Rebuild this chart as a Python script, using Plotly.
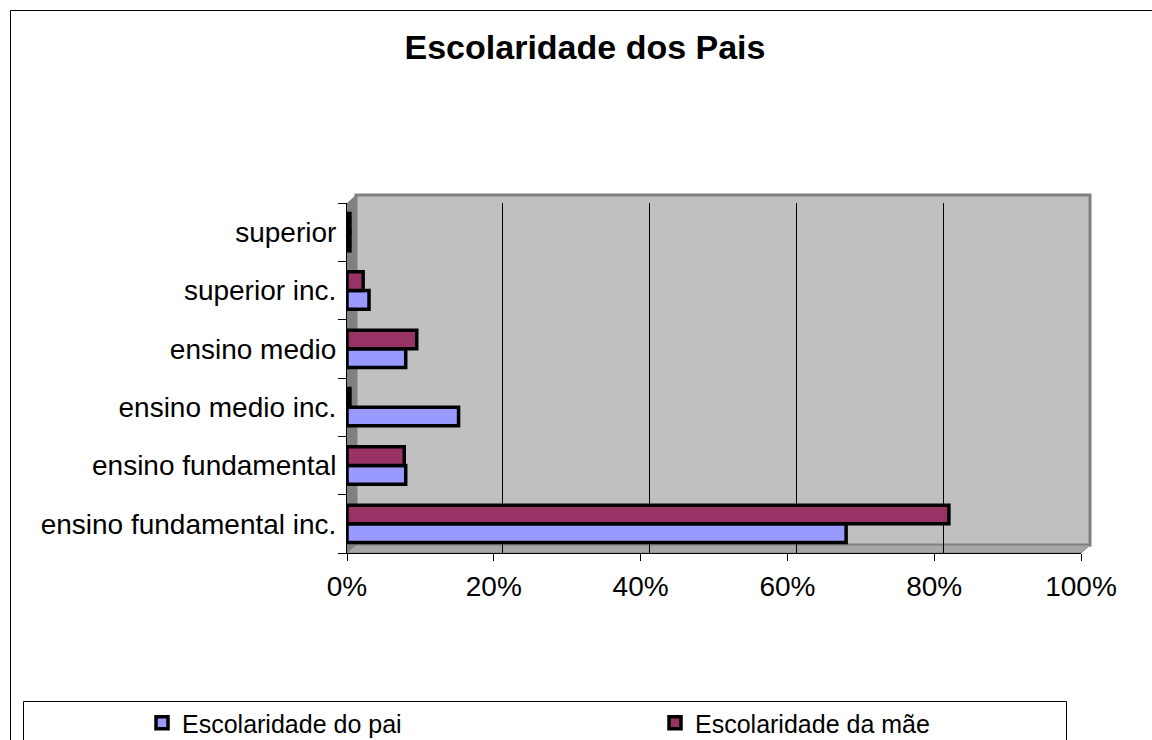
import plotly.graph_objects as go

categories = ["ensino fundamental inc.", "ensino fundamental", "ensino medio inc.",
              "ensino medio", "superior inc.", "superior"]
pai = [0.68, 0.08, 0.152, 0.08, 0.03, 0.004]
mae = [0.82, 0.078, 0.004, 0.095, 0.022, 0.004]
tick_vals = [0, 0.2, 0.4, 0.6, 0.8, 1.0]
tick_text = ["0%", "20%", "40%", "60%", "80%", "100%"]

W, H = 1152, 740
L, R, T, B = 347, 1081, 203, 553
pw, ph = R - L, B - T
DX, DY = 9, 8  # 3D depth offset of the back wall

def px(x):
    return (x - L) / pw

def py(y):
    return (B - y) / ph

font = "Arial, Liberation Sans, sans-serif"

fig = go.Figure()
fig.add_trace(go.Bar(y=categories, x=pai, orientation="h", name="Escolaridade do pai",
                     legend="legend",
                     marker=dict(color="#9999FF", line=dict(color="black", width=3.5))))
fig.add_trace(go.Bar(y=categories, x=mae, orientation="h", name="Escolaridade da mãe",
                     legend="legend2",
                     marker=dict(color="#993366", line=dict(color="black", width=3.5))))
# helper trace so the back-wall grid axis exists
fig.add_trace(go.Scatter(x=[None], y=[None], xaxis="x2", showlegend=False, hoverinfo="skip"))

def poly(pts):
    d = "M " + " L ".join(f"{px(x)},{py(y)}" for x, y in pts) + " Z"
    return d

shapes = [
    # back wall
    dict(type="rect", xref="paper", yref="paper", x0=px(L + DX), x1=px(R + DX),
         y0=py(B - DY), y1=py(T - DY),
         line=dict(color="#808080", width=3), fillcolor="#C0C0C0", layer="below"),
    # left side wall
    dict(type="path", xref="paper", yref="paper",
         path=poly([(L, T), (L + DX, T - DY), (L + DX, B - DY), (L, B)]),
         line=dict(width=0), fillcolor="#808080", layer="below"),
    # floor
    dict(type="path", xref="paper", yref="paper",
         path=poly([(L, B), (L + DX, B - DY), (R + DX, B - DY), (R, B)]),
         line=dict(color="#808080", width=1), fillcolor="#A8A8A8", layer="below"),
    # outer border
    dict(type="rect", xref="paper", yref="paper", x0=px(10.5), x1=px(1170), y0=py(770), y1=py(10.5),
         line=dict(color="black", width=1), fillcolor="rgba(0,0,0,0)", layer="above"),
    # legend box
    dict(type="rect", xref="paper", yref="paper", x0=px(23.5), x1=px(1066.5), y0=py(770), y1=py(701.5),
         line=dict(color="black", width=1), fillcolor="white", layer="above"),
]

fig.update_layout(
    width=W, height=H,
    margin=dict(l=L, r=W - R, t=T, b=H - B, pad=0, autoexpand=False),
    paper_bgcolor="white",
    plot_bgcolor="rgba(0,0,0,0)",
    barmode="group",
    bargap=0.36,
    bargroupgap=0.0,
    font=dict(family=font, color="black"),
    title=dict(text="<b>Escolaridade dos Pais</b>", x=585 / W, xanchor="center",
               y=1 - 47 / H, yanchor="middle", font=dict(size=34, family=font)),
    xaxis=dict(range=[0, 1.0], tickvals=tick_vals, ticktext=tick_text,
               showgrid=False,
               showline=True, linecolor="black", linewidth=1,
               ticks="outside", ticklen=7, tickcolor="black",
               tickfont=dict(size=28, family=font), ticklabelstandoff=1,
               zeroline=False, fixedrange=True),
    xaxis2=dict(overlaying="x", side="top", range=[-DX / pw, 1.0 - DX / pw],
                tickvals=tick_vals[1:-1], showticklabels=False, ticks="",
                showgrid=True, gridcolor="black", gridwidth=1,
                showline=False, zeroline=False, fixedrange=True),
    yaxis=dict(categoryorder="array", categoryarray=categories,
               showline=True, linecolor="black", linewidth=1,
               ticks="outside", ticklen=8, tickcolor="black", tickson="boundaries",
               tickfont=dict(size=28, family=font), ticklabelstandoff=4,
               showgrid=False, fixedrange=True),
    legend=dict(x=px(142), y=py(723), xanchor="left", yanchor="middle",
                bgcolor="rgba(0,0,0,0)", borderwidth=0, itemwidth=30,
                font=dict(size=25, family=font)),
    legend2=dict(x=px(655), y=py(723), xanchor="left", yanchor="middle",
                 bgcolor="rgba(0,0,0,0)", borderwidth=0, itemwidth=30,
                 font=dict(size=25, family=font)),
    shapes=shapes,
    showlegend=True,
)

fig.write_html("out.html", config={"displayModeBar": False},
               post_script="document.body.style.margin='0';document.body.style.overflow='hidden';")
